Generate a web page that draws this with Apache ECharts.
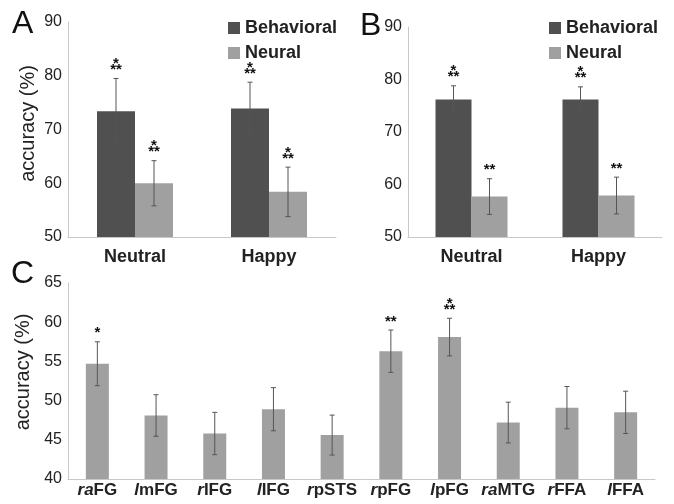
<!DOCTYPE html>
<html><head><meta charset="utf-8">
<script src="https://cdn.jsdelivr.net/npm/echarts@6/dist/echarts.min.js"></script>
<style>html,body{margin:0;padding:0;background:#fff}#c{width:674px;height:504px}</style>
</head><body><div id="c"></div>
<script>
// ---- data ----
const emotions = ['Neutral', 'Happy'];
const aBehavioral = [73.4, 73.9];
const aBehavioralErr = [6.1, 4.9];
const aNeural = [60.0, 58.4];
const aNeuralErr = [4.2, 4.6];
const aBehavioralStars = ['***', '***'];
const aNeuralStars = ['***', '***'];

const bBehavioral = [76.2, 76.2];
const bBehavioralErr = [2.6, 2.4];
const bNeural = [57.7, 57.9];
const bNeuralErr = [3.4, 3.5];
const bBehavioralStars = ['***', '***'];
const bNeuralStars = ['**', '**'];

const regions = ['raFG', 'lmFG', 'rIFG', 'lIFG', 'rpSTS', 'rpFG', 'lpFG', 'raMTG', 'rFFA', 'lFFA'];
const regionItalicPrefix = ['ra', 'l', 'r', 'l', 'r', 'r', 'l', 'ra', 'r', 'l'];
const cAccuracy = [54.7, 48.1, 45.8, 48.9, 45.6, 56.3, 58.1, 47.2, 49.1, 48.5];
const cErr = [2.8, 2.65, 2.7, 2.75, 2.55, 2.7, 2.4, 2.6, 2.7, 2.7];
const cStars = ['*', '', '', '', '', '**', '***', '', '', ''];

const yRangeAB = [50, 90, 10];
const yRangeC = [40, 65, 5];

// ---- styles ----
const DARK = '#505050', LIGHT = '#a0a0a0';
const AXIS = '#c8c8c8', TXT = '#222';
const FONT = 'Liberation Sans, Arial, sans-serif';

function errSeries(name, xi, means, errs, stars, offset) {
  return {
    type: 'custom', name: name + '_err', xAxisIndex: xi, yAxisIndex: xi, z: 5,
    data: means.map((m, i) => [i, m, errs[i]]),
    renderItem: function (params, api) {
      const i = api.value(0), m = api.value(1), e = api.value(2);
      const t = api.coord([i, m + e]), b = api.coord([i, m - e]);
      const x = t[0] + offset;
      const st = { stroke: '#555', lineWidth: 1 };
      const ch = [
        { type: 'line', shape: { x1: x, y1: t[1], x2: x, y2: b[1] }, style: st },
        { type: 'line', shape: { x1: x - 2.5, y1: t[1], x2: x + 2.5, y2: t[1] }, style: st },
        { type: 'line', shape: { x1: x - 2.5, y1: b[1], x2: x + 2.5, y2: b[1] }, style: st }
      ];
      const s = stars[params.dataIndex];
      const sty = t[1] - 1;
      const ts = { fill: '#111', font: 'bold 15px ' + FONT, textAlign: 'center', textVerticalAlign: 'bottom' };
      if (s === '*') {
        ch.push({ type: 'text', style: Object.assign({ text: '*', x: x, y: sty }, ts) });
      } else if (s === '**') {
        ch.push({ type: 'text', style: Object.assign({ text: '**', x: x, y: sty }, ts) });
      } else if (s === '***') {
        ch.push({ type: 'text', style: Object.assign({ text: '**', x: x, y: sty }, ts) });
        ch.push({ type: 'text', style: Object.assign({ text: '*', x: x, y: sty - 6 }, ts) });
      }
      return { type: 'group', children: ch };
    }
  };
}

function yAxisCfg(gi, range, name, shift) {
  return {
    type: 'value', gridIndex: gi, min: range[0], max: range[1], interval: range[2],
    axisLine: { show: true, lineStyle: { color: AXIS } },
    axisTick: { show: false }, splitLine: { show: false },
    axisLabel: { fontSize: 16, color: TXT, fontFamily: FONT, margin: 6 },
    name: name || '', nameLocation: 'middle', nameGap: 30,
    nameTextStyle: { fontSize: 20, color: TXT, fontFamily: FONT, padding: [0, 0, 0, shift || 0] }
  };
}

const chart = echarts.init(document.getElementById('c'));
chart.setOption({
  animation: false,
  backgroundColor: '#fff',
  grid: [
    { left: 68, top: 22, width: 268, height: 215 },
    { left: 408, top: 27, width: 254, height: 210 },
    { left: 68, top: 283, width: 587, height: 196 }
  ],
  xAxis: [
    { type: 'category', gridIndex: 0, data: emotions,
      axisLine: { lineStyle: { color: AXIS } }, axisTick: { show: false },
      axisLabel: { fontSize: 18, fontWeight: 'bold', color: TXT, fontFamily: FONT, margin: 11 } },
    { type: 'category', gridIndex: 1, data: emotions,
      axisLine: { lineStyle: { color: AXIS } }, axisTick: { show: false },
      axisLabel: { fontSize: 18, fontWeight: 'bold', color: TXT, fontFamily: FONT, margin: 11 } },
    { type: 'category', gridIndex: 2, data: regions,
      axisLine: { lineStyle: { color: AXIS } }, axisTick: { show: false },
      axisLabel: {
        interval: 0, margin: 3, color: TXT,
        formatter: function (v, idx) {
          const p = regionItalicPrefix[idx];
          return '{i|' + p + '}{n|' + v.slice(p.length) + '}';
        },
        rich: {
          i: { fontSize: 17, fontWeight: 'bold', fontStyle: 'italic', color: TXT, fontFamily: FONT },
          n: { fontSize: 17, fontWeight: 'bold', color: TXT, fontFamily: FONT }
        }
      } }
  ],
  yAxis: [
    yAxisCfg(0, yRangeAB, 'accuracy (%)', 12),
    yAxisCfg(1, yRangeAB, '', 0),
    yAxisCfg(2, yRangeC, 'accuracy (%)', 18)
  ],
  legend: [
    { left: 223, top: 14, orient: 'vertical', itemWidth: 12, itemHeight: 12, itemGap: 7, icon: 'rect',
      data: ['Behavioral', 'Neural'], selectedMode: false,
      textStyle: { fontSize: 18, fontWeight: 'bold', color: TXT, fontFamily: FONT } },
    { left: 544, top: 14, orient: 'vertical', itemWidth: 12, itemHeight: 12, itemGap: 7, icon: 'rect',
      data: ['Behavioral', 'Neural'], selectedMode: false,
      textStyle: { fontSize: 18, fontWeight: 'bold', color: TXT, fontFamily: FONT } }
  ],
  graphic: [
    { type: 'text', left: 12, top: 8, style: { text: 'A', font: '32px ' + FONT, fill: '#111' } },
    { type: 'text', left: 360, top: 10, style: { text: 'B', font: '32px ' + FONT, fill: '#111' } },
    { type: 'text', left: 11, top: 258, style: { text: 'C', font: '32px ' + FONT, fill: '#111' } }
  ],
  series: [
    { type: 'bar', name: 'Behavioral', xAxisIndex: 0, yAxisIndex: 0, data: aBehavioral, barWidth: 38, barGap: '0%', itemStyle: { color: DARK } },
    { type: 'bar', name: 'Neural', xAxisIndex: 0, yAxisIndex: 0, data: aNeural, barWidth: 38, barGap: '0%', itemStyle: { color: LIGHT } },
    errSeries('aB', 0, aBehavioral, aBehavioralErr, aBehavioralStars, -19),
    errSeries('aN', 0, aNeural, aNeuralErr, aNeuralStars, 19),
    { type: 'bar', name: 'Behavioral', xAxisIndex: 1, yAxisIndex: 1, data: bBehavioral, barWidth: 36, barGap: '0%', itemStyle: { color: DARK } },
    { type: 'bar', name: 'Neural', xAxisIndex: 1, yAxisIndex: 1, data: bNeural, barWidth: 36, barGap: '0%', itemStyle: { color: LIGHT } },
    errSeries('bB', 1, bBehavioral, bBehavioralErr, bBehavioralStars, -18),
    errSeries('bN', 1, bNeural, bNeuralErr, bNeuralStars, 18),
    { type: 'bar', name: 'ROI', xAxisIndex: 2, yAxisIndex: 2, data: cAccuracy, barWidth: 23, itemStyle: { color: LIGHT } },
    errSeries('c', 2, cAccuracy, cErr, cStars, 0)
  ]
});
</script>
</body></html>
